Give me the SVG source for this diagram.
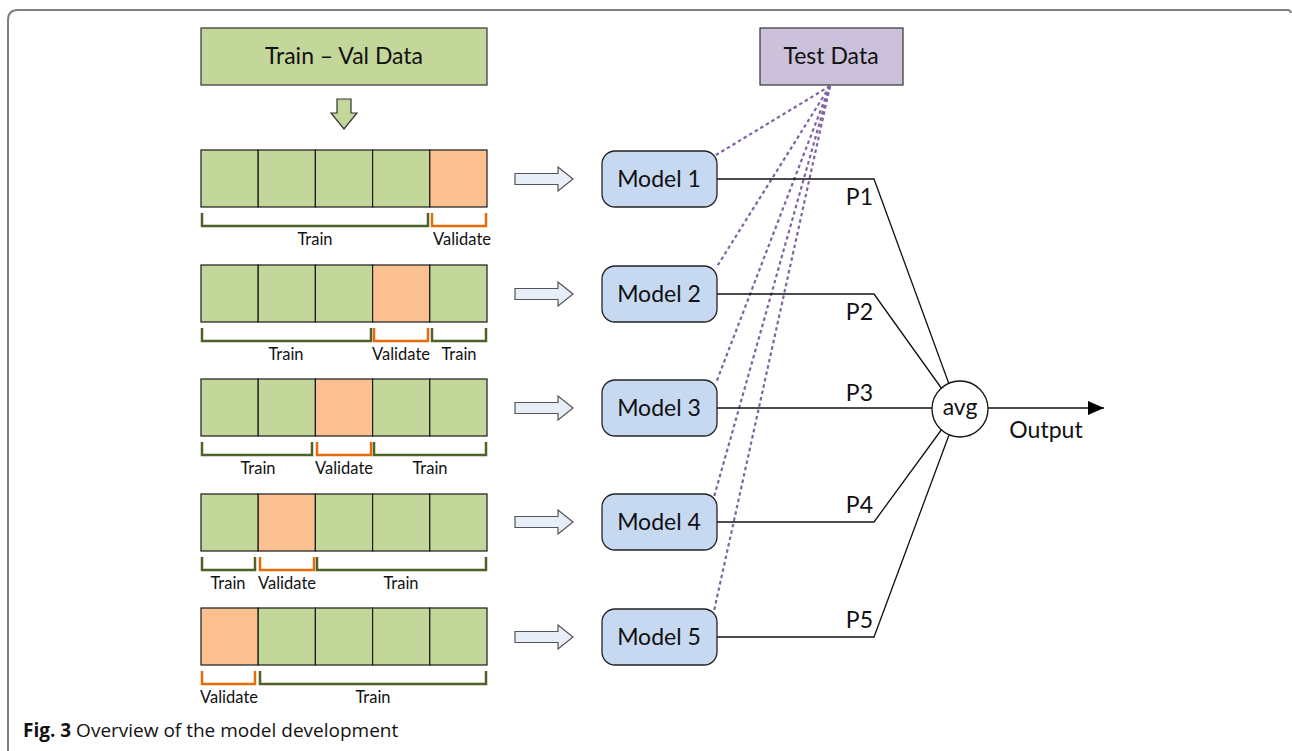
<svg xmlns="http://www.w3.org/2000/svg" width="1292" height="751" viewBox="0 0 1292 751">
<style>
.g{fill:#c4d79b;stroke:#1a1a1a;stroke-width:1.2}
.o{fill:#fac090;stroke:#1a1a1a;stroke-width:1.2}
.bt{fill:none;stroke:#4f6228;stroke-width:2.5}
.bv{fill:none;stroke:#e46c0a;stroke-width:2.5}
.lbl{font-family:Lato,"Open Sans",sans-serif;font-size:16.5px;fill:#111;text-anchor:middle}
.big{font-family:Lato,"Open Sans",sans-serif;font-size:23px;fill:#111;text-anchor:middle}
.end{text-anchor:end}
.model{fill:#c6d9f1;stroke:#222;stroke-width:1.3}
.ra{fill:#e7eef8;stroke:#555;stroke-width:1.2}
.dot{fill:none;stroke:#8064a2;stroke-width:2.2;stroke-dasharray:3.5 3}
.ln{fill:none;stroke:#111;stroke-width:1.3}
</style>
<defs>
<marker id="ah" markerWidth="16" markerHeight="14" refX="16" refY="7" orient="auto" markerUnits="userSpaceOnUse" viewBox="0 0 16 14">
<path d="M0,0 L16,7 L0,14 Z" fill="#000"/>
</marker>
<path id="rarrow" d="M0,-5.5 H43 V-12 L58,0 L43,12 V5.5 H0 Z"/>
</defs>
<rect width="1292" height="751" fill="#fff"/>
<path d="M8,751 V20 Q8,10 18,10 H1288 Q1290,10 1291,13" fill="none" stroke="#808080" stroke-width="2"/>

<g id="trainval">
<rect x="201" y="28" width="286" height="57" fill="#c4d79b" stroke="#333" stroke-width="1.2"/>
<text class="big" x="344" y="64">Train – Val Data</text>
</g>
<g id="downarrow">
<path d="M337,99 H351 V113 H357 L344,129 L331,113 H337 Z" fill="#c4d79b" stroke="#333" stroke-width="1.2"/>
</g>

<g id="fold1">
<rect class="g" x="201" y="150" width="57.2" height="57"/>
<rect class="g" x="258.2" y="150" width="57.2" height="57"/>
<rect class="g" x="315.4" y="150" width="57.2" height="57"/>
<rect class="g" x="372.6" y="150" width="57.2" height="57"/>
<rect class="o" x="429.8" y="150" width="57.2" height="57"/>
<path class="bt" d="M202,213 V226 H428 V213"/>
<path class="bv" d="M432,213 V226 H486 V213"/>
<text class="lbl" x="315" y="245">Train</text>
<text class="lbl" x="462" y="245">Validate</text>
</g>
<g id="fold2">
<rect class="g" x="201" y="265" width="57.2" height="57"/>
<rect class="g" x="258.2" y="265" width="57.2" height="57"/>
<rect class="g" x="315.4" y="265" width="57.2" height="57"/>
<rect class="o" x="372.6" y="265" width="57.2" height="57"/>
<rect class="g" x="429.8" y="265" width="57.2" height="57"/>
<path class="bt" d="M202,328 V341 H371 V328"/>
<path class="bv" d="M374,328 V341 H428 V328"/>
<path class="bt" d="M432,328 V341 H486 V328"/>
<text class="lbl" x="286" y="360">Train</text>
<text class="lbl" x="401" y="360">Validate</text>
<text class="lbl" x="459" y="360">Train</text>
</g>
<g id="fold3">
<rect class="g" x="201" y="379" width="57.2" height="57"/>
<rect class="g" x="258.2" y="379" width="57.2" height="57"/>
<rect class="o" x="315.4" y="379" width="57.2" height="57"/>
<rect class="g" x="372.6" y="379" width="57.2" height="57"/>
<rect class="g" x="429.8" y="379" width="57.2" height="57"/>
<path class="bt" d="M202,442 V455 H312 V442"/>
<path class="bv" d="M317,442 V455 H371 V442"/>
<path class="bt" d="M374,442 V455 H486 V442"/>
<text class="lbl" x="258" y="474">Train</text>
<text class="lbl" x="344" y="474">Validate</text>
<text class="lbl" x="430" y="474">Train</text>
</g>
<g id="fold4">
<rect class="g" x="201" y="494" width="57.2" height="57"/>
<rect class="o" x="258.2" y="494" width="57.2" height="57"/>
<rect class="g" x="315.4" y="494" width="57.2" height="57"/>
<rect class="g" x="372.6" y="494" width="57.2" height="57"/>
<rect class="g" x="429.8" y="494" width="57.2" height="57"/>
<path class="bt" d="M202,557 V570 H255 V557"/>
<path class="bv" d="M260,557 V570 H314 V557"/>
<path class="bt" d="M317,557 V570 H486 V557"/>
<text class="lbl" x="228" y="589">Train</text>
<text class="lbl" x="287" y="589">Validate</text>
<text class="lbl" x="401" y="589">Train</text>
</g>
<g id="fold5">
<rect class="o" x="201" y="608" width="57.2" height="57"/>
<rect class="g" x="258.2" y="608" width="57.2" height="57"/>
<rect class="g" x="315.4" y="608" width="57.2" height="57"/>
<rect class="g" x="372.6" y="608" width="57.2" height="57"/>
<rect class="g" x="429.8" y="608" width="57.2" height="57"/>
<path class="bv" d="M202,671 V684 H255 V671"/>
<path class="bt" d="M260,671 V684 H486 V671"/>
<text class="lbl" x="229" y="703">Validate</text>
<text class="lbl" x="373" y="703">Train</text>
</g>

<g id="rightarrows">
<use href="#rarrow" class="ra" x="515" y="179"/>
<use href="#rarrow" class="ra" x="515" y="294"/>
<use href="#rarrow" class="ra" x="515" y="408"/>
<use href="#rarrow" class="ra" x="515" y="522"/>
<use href="#rarrow" class="ra" x="515" y="637"/>
</g>

<g id="connectors">
<path class="dot" d="M830,86 L716,155"/>
<path class="dot" d="M830,86 L716,268"/>
<path class="dot" d="M830,86 L716,383"/>
<path class="dot" d="M830,86 L714,497"/>
<path class="dot" d="M830,86 L714,611"/>
<path class="ln" d="M717,179 H874 L949,384"/>
<path class="ln" d="M717,294 H874 L942,389"/>
<path class="ln" d="M717,408 H932"/>
<path class="ln" d="M717,522 H874 L942,429"/>
<path class="ln" d="M717,637 H874 L949,435"/>
<path class="ln" d="M988,408 H1104" marker-end="url(#ah)"/>
<text class="big end" x="873" y="205">P1</text>
<text class="big end" x="873" y="320">P2</text>
<text class="big end" x="873" y="401">P3</text>
<text class="big end" x="873" y="513">P4</text>
<text class="big end" x="873" y="628">P5</text>
<text class="big" x="1046" y="438">Output</text>
</g>

<g id="model1"><rect class="model" x="602" y="151" width="115" height="56" rx="13"/><text class="big" x="659" y="187">Model 1</text></g>
<g id="model2"><rect class="model" x="602" y="266" width="115" height="56" rx="13"/><text class="big" x="659" y="302">Model 2</text></g>
<g id="model3"><rect class="model" x="602" y="380" width="115" height="56" rx="13"/><text class="big" x="659" y="416">Model 3</text></g>
<g id="model4"><rect class="model" x="602" y="494" width="115" height="56" rx="13"/><text class="big" x="659" y="530">Model 4</text></g>
<g id="model5"><rect class="model" x="602" y="609" width="115" height="56" rx="13"/><text class="big" x="659" y="645">Model 5</text></g>

<g id="testdata">
<rect x="760" y="28" width="143" height="57" fill="#ccc1da" stroke="#333" stroke-width="1.2"/>
<text class="big" x="831" y="64">Test Data</text>
</g>

<g id="avg">
<circle cx="960" cy="409" r="28" fill="#fff" stroke="#111" stroke-width="1.3"/>
<text class="big" x="960" y="415">avg</text>
</g>

<g id="caption">
<text x="23" y="737" font-family="'Open Sans','Noto Sans',sans-serif" font-size="19" fill="#111"><tspan font-weight="bold">Fig. 3</tspan> Overview of the model development</text>
</g>
</svg>
